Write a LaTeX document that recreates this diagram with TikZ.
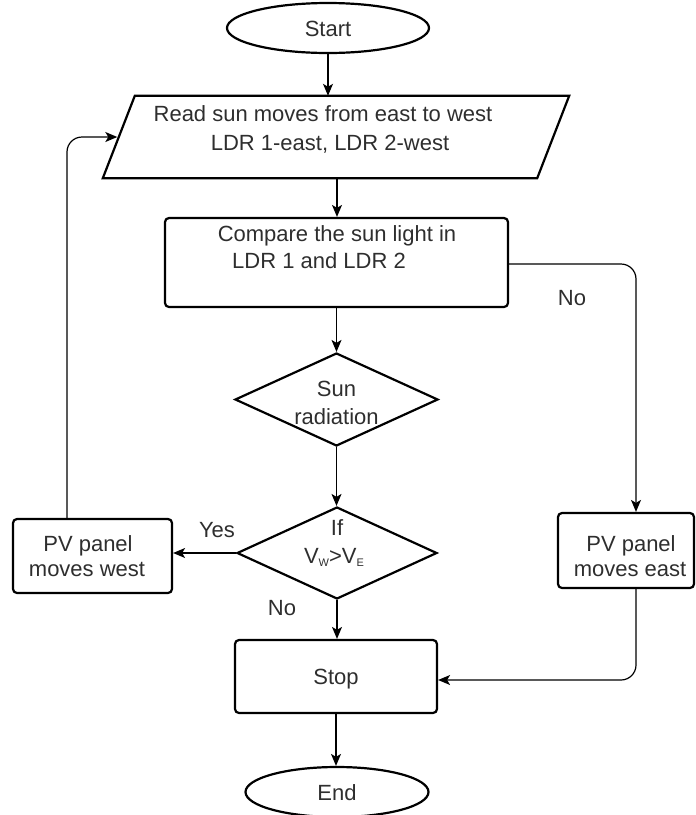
\documentclass[tikz,border=0pt]{standalone}
\usepackage{fontspec}
\setmainfont{Liberation Sans}
\usetikzlibrary{shapes.geometric,arrows.meta}
\begin{document}
\begin{tikzpicture}[x=1pt,y=-1pt,
  font=\fontsize{22}{26}\selectfont,
  txt/.style={inner sep=0pt, text=black!82, text height=16pt, text depth=0pt},
  shapebox/.style={draw, line width=2.2pt, inner sep=0pt, txt},
  rbox/.style={shapebox, rectangle, rounded corners=4pt},
  conn/.style={line width=1.2pt, -{Stealth[length=12pt,width=10pt,inset=3pt]}},
  loopconn/.style={conn, rounded corners=15pt}
]
\useasboundingbox (0,0) rectangle (696,815);

% shapes
\node[shapebox, ellipse, minimum width=202pt, minimum height=50pt] (start) at (328,28) {Start};
\node[minimum width=434pt, minimum height=82pt, inner sep=0pt] (read) at (336,137) {};
\draw[line width=2.2pt, line join=miter]
  ([xshift=-16pt]read.south west) -- ([xshift=16pt]read.north west) --
  ([xshift=16pt]read.north east) -- ([xshift=-16pt]read.south east) -- cycle;
\node[rbox, minimum width=343pt, minimum height=89pt] (compare) at (336.5,262.5) {};
\node[shapebox, diamond, minimum width=203pt, minimum height=93pt] (d1) at (336.5,399.5) {};
\node[shapebox, diamond, minimum width=200pt, minimum height=92pt] (d2) at (337,553) {};
\node[rbox, minimum width=159pt, minimum height=74pt] (pvw) at (92.5,556) {};
\node[rbox, minimum width=136pt, minimum height=75pt] (pve) at (626,550.5) {};
\node[rbox, minimum width=202pt, minimum height=73pt] (stop) at (336,676.5) {Stop};
\node[shapebox, ellipse, minimum width=183pt, minimum height=50pt] (end) at (337,792) {End};

% texts
\node[txt] (r1) at (323,113) {Read sun moves from east to west};
\node[txt] (r2) at (330,142) {LDR 1-east, LDR 2-west};
\node[txt] (c1) at (337,233) {Compare the sun light in};
\node[txt, anchor=west] (c2) at (232,260) {LDR 1 and LDR 2};
\node[txt] (s1) at (336.5,388) {Sun};
\node[txt] (s2) at (336.5,416) {radiation};
\node[txt] (i1) at (337,527) {If};
\node[txt] (i2) at (334,555) {V\raisebox{-3pt}{\fontsize{11}{11}\selectfont W}>V\raisebox{-3pt}{\fontsize{11}{11}\selectfont E}};
\node[txt] (w1) at (88,543) {PV panel};
\node[txt] (w2) at (87,568) {moves west};
\node[txt] (e1) at (631,543) {PV panel};
\node[txt] (e2) at (630,568) {moves east};

% labels
\node[txt] (yes) at (217,529) {Yes};
\node[txt] (no1) at (572,297) {No};
\node[txt] (no2) at (282,607) {No};

% connectors
\draw[conn] (start.south) -- (start.south |- read.north);
\draw[conn] ([xshift=1pt]read.south) -- ([xshift=1pt]read.south |- compare.north);
\draw[conn] (compare.south) -- (compare.south |- d1.north);
\draw[conn] (d1.south) -- (d1.south |- d2.north);
\draw[conn] (d2.west) -- (d2.west -| pvw.east);
\draw[loopconn] ([xshift=-25.5pt]pvw.north) |- ([xshift=-1.5pt]read.west);
\draw[conn] (d2.south) -- (d2.south |- stop.north);
\draw[loopconn] ([yshift=-1.5pt]compare.east) -| ([xshift=10pt]pve.north);
\draw[loopconn] ([xshift=10pt]pve.south) |- ([yshift=-3.5pt]stop.east);
\draw[conn] (stop.south) -- (stop.south |- end.north);
\end{tikzpicture}
\end{document}
